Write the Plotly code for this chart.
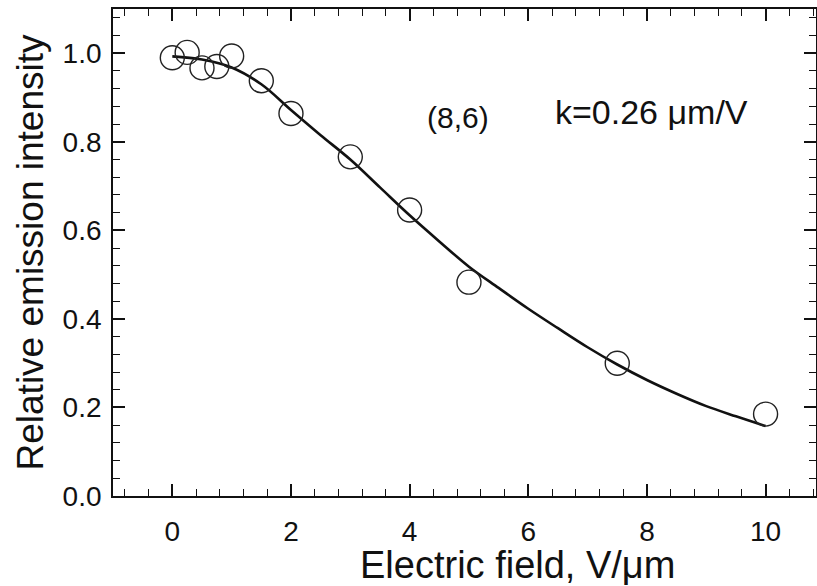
import plotly.graph_objects as go

# measured points
field = [0, 0.25, 0.5, 0.75, 1.0, 1.5, 2, 3, 4, 5, 7.5, 10]
intensity = [0.990, 1.002, 0.967, 0.970, 0.994, 0.938, 0.864, 0.766, 0.646, 0.483, 0.300, 0.185]

# fitted curve
fit_x = [0, 0.5, 1, 1.5, 2, 2.5, 3, 3.5, 4, 4.5, 5, 5.5, 6, 6.5, 7, 7.5, 8, 8.5, 9, 9.5, 10]
fit_y = [0.993, 0.986, 0.968, 0.930, 0.872, 0.815, 0.760, 0.697, 0.634, 0.575, 0.518, 0.470,
         0.423, 0.379, 0.336, 0.297, 0.262, 0.231, 0.203, 0.180, 0.158]

font = "Arial, Liberation Sans, sans-serif"
ink = "#111111"

curve = go.Scatter(x=fit_x, y=fit_y, mode="lines", line=dict(color=ink, width=2.6, shape="spline"),
                   showlegend=False)
points = go.Scatter(x=field, y=intensity, mode="markers", showlegend=False,
                    marker=dict(symbol="circle-open", size=24, color="#222222", line=dict(width=1.4)))

axis_common = dict(showline=True, linecolor=ink, linewidth=1.8, mirror="allticks", automargin=False,
                   ticks="inside", ticklen=12, tickwidth=1.5, tickcolor=ink,
                   showgrid=False, zeroline=False, tickfont=dict(family=font, size=28, color=ink))

layout = go.Layout(
    width=817, height=586,
    margin=dict(l=113, r=1, t=9, b=90),
    paper_bgcolor="white", plot_bgcolor="white",
    xaxis=dict(axis_common, range=[-1, 10.85], tickmode="array", tickvals=[0, 2, 4, 6, 8, 10],
               ticktext=["0", "2", "4", "6", "8", "10"], ticklabelstandoff=9,
               minor=dict(dtick=0.4, tick0=0, ticks="inside", ticklen=7, tickwidth=1.3, tickcolor=ink)),
    yaxis=dict(axis_common, range=[0, 1.1], tickmode="array", tickvals=[0, 0.2, 0.4, 0.6, 0.8, 1.0],
               ticktext=["0.0", "0.2", "0.4", "0.6", "0.8", "1.0"], ticklabelstandoff=4,
               minor=dict(dtick=0.04, tick0=0, ticks="inside", ticklen=7, tickwidth=1.3, tickcolor=ink),
               title=dict(text="Relative emission intensity", font=dict(family=font, size=37, color=ink), standoff=8)),
    annotations=[
        # x title sits right of centre in the original
        dict(x=0.575, y=-0.142, xref="paper", yref="paper", yanchor="middle", text="Electric field, V/μm",
             showarrow=False, font=dict(family=font, size=38, color=ink)),
        dict(x=4.82, y=0.855, xref="x", yref="y", text="(8,6)", showarrow=False,
             font=dict(family=font, size=30, color=ink)),
        dict(x=8.07, y=0.867, xref="x", yref="y", text="k=0.26 μm/V", showarrow=False,
             font=dict(family=font, size=34, color=ink)),
    ],
)

fig = go.Figure(data=[curve, points], layout=layout)
fig.write_html("out.html", config={"displayModeBar": False},
               post_script="document.body.style.margin='0';document.body.style.overflow='hidden';")
